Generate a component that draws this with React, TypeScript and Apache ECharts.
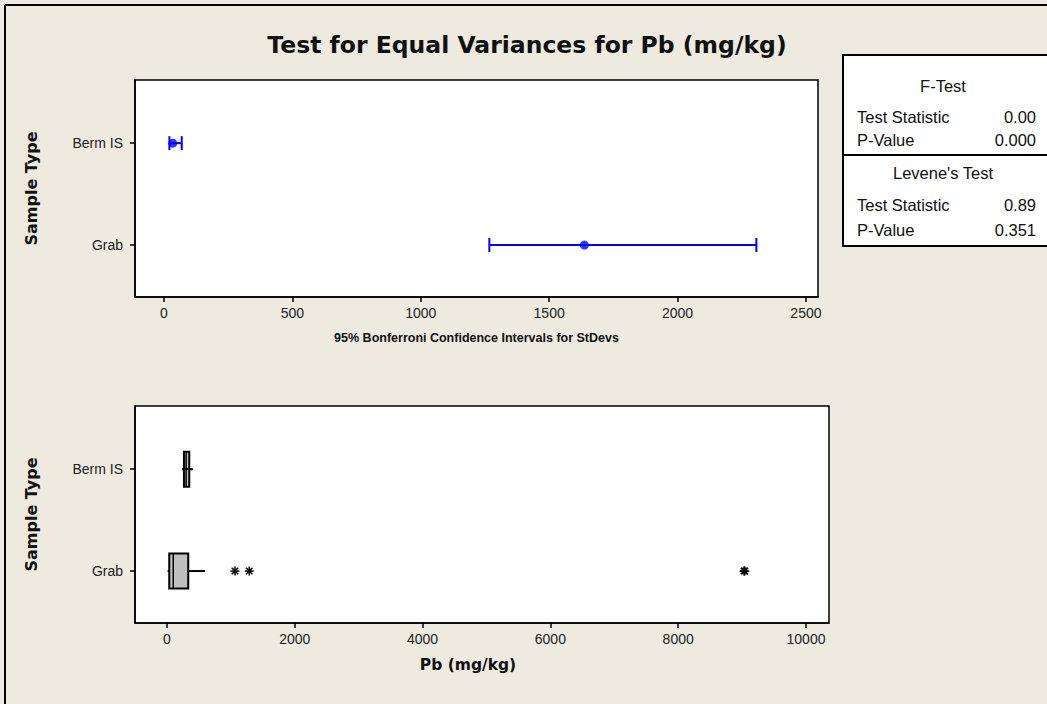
import React, { useEffect, useRef } from "react";
import * as echarts from "echarts";

// ---- data ----
const categories = ["Grab", "Berm IS"]; // y positions 1, 2
const stdevTicks = [0, 500, 1000, 1500, 2000, 2500];
const pbTicks = [0, 2000, 4000, 6000, 8000, 10000];
// Bonferroni CI for StDev: lower / upper / point estimate per category
const ciLower = [1267, 21];
const ciUpper = [2307, 69];
const stdevPoint = [1637, 34];
// Boxplot stats: [lowWhisker, Q1, median, Q3, highWhisker]
const boxGrab = [10, 36, 99, 333, 595];
const boxBerm = [235, 266, 300, 349, 402];
// outliers (Grab)
const outliersGrab = [1064, 1288, 9030, 9042];
// stats table
const fTest = { stat: "0.00", p: "0.000" };
const leveneTest = { stat: "0.89", p: "0.351" };

const FONT = "Liberation Sans";
const WIDE = "DejaVu Sans";

export default function App() {
  const ref = useRef<HTMLDivElement>(null);
  useEffect(() => {
    document.body.style.margin = "0";
    const chart = echarts.init(ref.current!, undefined, { renderer: "svg" });
    const catFormatter = (v: number) => {
      const i = Math.round(v) - 1;
      return categories[i] ?? "";
    };
    const yAxisBase = (gi: number) => ({
      type: "value",
      gridIndex: gi,
      min: 0.49,
      max: 2.62,
      splitLine: { show: false },
      axisLine: { show: true, onZero: false, lineStyle: { color: "#000", width: 1.5 } },
      axisTick: { show: true, customValues: [1, 2], length: 5, lineStyle: { color: "#000", width: 1.5 } },
      axisLabel: {
        customValues: [1, 2],
        formatter: catFormatter,
        color: "#222",
        fontSize: 14,
        fontFamily: FONT,
        margin: 12,
      },
      name: "Sample Type",
      nameLocation: "middle",
      nameRotate: 90,
      nameGap: 96,
      nameTextStyle: { fontFamily: WIDE, fontWeight: "bold", fontSize: 16, color: "#111" },
    });
    const xAxisBase = (gi: number, min: number, max: number, ticks: number[], name: string, nameStyle: any) => ({
      type: "value",
      gridIndex: gi,
      min,
      max,
      splitLine: { show: false },
      axisLine: { show: true, onZero: false, lineStyle: { color: "#000", width: 1.5 } },
      axisTick: { show: true, customValues: ticks, length: 5, lineStyle: { color: "#000", width: 1.5 } },
      axisLabel: {
        customValues: ticks,
        formatter: (v: number) => String(v),
        color: "#222",
        fontSize: 14,
        fontFamily: FONT,
        margin: 9,
      },
      name,
      nameLocation: "middle",
      nameGap: 34,
      nameTextStyle: nameStyle,
    });

    const ciData = categories.map((_, i) => [ciLower[i], ciUpper[i], i + 1]);
    const dotData = categories.map((_, i) => [stdevPoint[i], i + 1]);
    const boxData = [
      [...boxGrab, 1],
      [...boxBerm, 2],
    ];
    const outData = outliersGrab.map((v) => [v, 1]);

    const blue = "#0000ff";
    const txt = (x: number, y: number, text: string, align: string) => ({
      type: "text",
      x,
      y,
      style: { text, fontFamily: FONT, fontSize: 16.5, fill: "#111", align, verticalAlign: "middle" },
    });
    const option: any = {
      animation: false,
      backgroundColor: "#eeeae0",
      title: {
        text: "Test for Equal Variances for Pb (mg/kg)",
        left: 522,
        textAlign: "center",
        top: 28,
        textStyle: { fontFamily: WIDE, fontWeight: "bold", fontSize: 23.5, color: "#111" },
      },
      grid: [
        { left: 135, top: 80, width: 683, height: 217, show: true, backgroundColor: "#fff", borderColor: "#000", borderWidth: 1.5 },
        { left: 135, top: 406, width: 694, height: 217, show: true, backgroundColor: "#fff", borderColor: "#000", borderWidth: 1.5 },
      ],
      xAxis: [
        xAxisBase(0, -113, 2547, stdevTicks, "95% Bonferroni Confidence Intervals for StDevs", {
          fontFamily: FONT, fontWeight: "bold", fontSize: 12.5, color: "#111",
        }),
        xAxisBase(1, -500, 10360, pbTicks, "Pb (mg/kg)", {
          fontFamily: WIDE, fontWeight: "bold", fontSize: 15.5, color: "#111", padding: [0, 28, 0, 0],
        }),
      ],
      yAxis: [yAxisBase(0), yAxisBase(1)],
      series: [
        {
          type: "custom",
          xAxisIndex: 0,
          yAxisIndex: 0,
          data: ciData,
          encode: { x: [0, 1], y: 2 },
          renderItem: (params: any, api: any) => {
            const lo = api.coord([api.value(0), api.value(2)]);
            const hi = api.coord([api.value(1), api.value(2)]);
            const h = 7;
            const st = { stroke: blue, lineWidth: 2 };
            return {
              type: "group",
              children: [
                { type: "line", shape: { x1: lo[0], y1: lo[1], x2: hi[0], y2: hi[1] }, style: st },
                { type: "line", shape: { x1: lo[0], y1: lo[1] - h, x2: lo[0], y2: lo[1] + h }, style: st },
                { type: "line", shape: { x1: hi[0], y1: hi[1] - h, x2: hi[0], y2: hi[1] + h }, style: st },
              ],
            };
          },
        },
        {
          type: "scatter",
          xAxisIndex: 0,
          yAxisIndex: 0,
          data: dotData,
          symbol: "circle",
          symbolSize: 9,
          itemStyle: { color: blue },
          z: 5,
        },
        {
          type: "custom",
          xAxisIndex: 1,
          yAxisIndex: 1,
          data: boxData,
          encode: { x: [0, 1, 2, 3, 4], y: 5 },
          renderItem: (params: any, api: any) => {
            const y = api.value(5);
            const pts = [0, 1, 2, 3, 4].map((k) => api.coord([api.value(k), y]));
            const hh = 17.5;
            const cy = pts[0][1];
            const st = { stroke: "#000", lineWidth: 2 };
            const narrow = pts[3][0] - pts[1][0] < 10;
            return {
              type: "group",
              children: [
                { type: "line", shape: { x1: pts[0][0], y1: cy, x2: pts[1][0], y2: cy }, style: st },
                { type: "line", shape: { x1: pts[3][0], y1: cy, x2: pts[4][0], y2: cy }, style: st },
                {
                  type: "rect",
                  shape: { x: pts[1][0], y: cy - hh, width: pts[3][0] - pts[1][0], height: hh * 2 },
                  style: { fill: "#c0c0c0", stroke: "#000", lineWidth: 2 },
                },
                { type: "line", shape: { x1: pts[2][0], y1: cy - hh, x2: pts[2][0], y2: cy + hh }, style: { stroke: "#000", lineWidth: 1.5 } },
                { type: "line", shape: { x1: pts[0][0], y1: cy, x2: pts[4][0], y2: cy }, style: { stroke: "#000", lineWidth: 2 }, invisible: !narrow },
              ],
            };
          },
        },
        {
          type: "custom",
          xAxisIndex: 1,
          yAxisIndex: 1,
          data: outData,
          encode: { x: 0, y: 1 },
          renderItem: (params: any, api: any) => {
            const p = api.coord([api.value(0), api.value(1)]);
            const r = 4.5;
            const d = r * 0.72;
            const st = { stroke: "#000", lineWidth: 1.5 };
            return {
              type: "group",
              children: [
                { type: "line", shape: { x1: p[0] - r, y1: p[1], x2: p[0] + r, y2: p[1] }, style: st },
                { type: "line", shape: { x1: p[0], y1: p[1] - r, x2: p[0], y2: p[1] + r }, style: st },
                { type: "line", shape: { x1: p[0] - d, y1: p[1] - d, x2: p[0] + d, y2: p[1] + d }, style: st },
                { type: "line", shape: { x1: p[0] - d, y1: p[1] + d, x2: p[0] + d, y2: p[1] - d }, style: st },
              ],
            };
          },
        },
      ],
      graphic: [
        { type: "line", shape: { x1: 5, y1: 5, x2: 1100, y2: 5 }, style: { stroke: "#000", lineWidth: 2 } },
        { type: "line", shape: { x1: 5, y1: 5, x2: 5, y2: 800 }, style: { stroke: "#000", lineWidth: 2 } },
        { type: "rect", shape: { x: 843, y: 55, width: 260, height: 191 }, style: { fill: "#fff", stroke: "#000", lineWidth: 2 } },
        { type: "line", shape: { x1: 843, y1: 155, x2: 1100, y2: 155 }, style: { stroke: "#000", lineWidth: 2 } },
        txt(943, 86, "F-Test", "center"),
        txt(857, 117, "Test Statistic", "left"),
        txt(1036, 117, fTest.stat, "right"),
        txt(857, 140, "P-Value", "left"),
        txt(1036, 140, fTest.p, "right"),
        txt(943, 173, "Levene's Test", "center"),
        txt(857, 205, "Test Statistic", "left"),
        txt(1036, 205, leveneTest.stat, "right"),
        txt(857, 230, "P-Value", "left"),
        txt(1036, 230, leveneTest.p, "right"),
      ],
    };
    chart.setOption(option);
    return () => chart.dispose();
  }, []);
  return <div ref={ref} style={{ position: "fixed", left: 0, top: 0, width: 1047, height: 704 }} />;
}
